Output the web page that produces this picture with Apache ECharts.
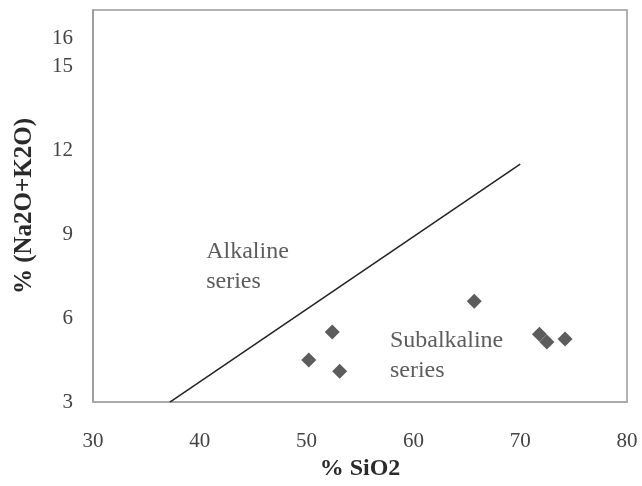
<!DOCTYPE html>
<html>
<head>
<meta charset="utf-8">
<script src="https://cdn.jsdelivr.net/npm/echarts@6/dist/echarts.min.js"></script>
<style>
html,body{margin:0;padding:0;background:#fff;}
#chart{width:642px;height:486px;}
</style>
</head>
<body>
<div id="chart"></div>
<script>
// Data
var xTicks = [30, 40, 50, 60, 70, 80];
var yTicks = [3, 6, 9, 12, 15, 16];
var samplesSiO2 = [65.7, 52.4, 50.2, 53.1, 71.8, 72.5, 74.2];
var samplesAlk  = [6.6, 5.5, 4.5, 4.1, 5.42, 5.15, 5.25];
var dividerSiO2 = [37.2, 70];
var dividerAlk  = [3, 11.5];
var fieldNames = ['Alkaline\nseries', 'Subalkaline\nseries'];
var fieldSiO2 = [40.6, 57.8];
var fieldAlk  = [7.84, 4.65];

var FONT = 'Liberation Serif';
var chart = echarts.init(document.getElementById('chart'));
chart.setOption({
  backgroundColor: '#fff',
  animation: false,
  grid: {left: 93, right: 15, top: 10, bottom: 77, show: true, borderColor: '#999', borderWidth: 1.5},
  xAxis: {
    type: 'value', min: xTicks[0], max: xTicks[xTicks.length - 1], interval: 10,
    name: '% SiO2', nameLocation: 'middle', nameGap: 48,
    nameTextStyle: {fontFamily: FONT, fontSize: 24, fontWeight: 'bold', color: '#2a2a2a'},
    axisLine: {show: true, lineStyle: {color: '#aaa', width: 2}},
    axisTick: {show: false},
    splitLine: {show: false},
    axisLabel: {fontFamily: FONT, fontSize: 21, color: '#444', margin: 29}
  },
  yAxis: {
    type: 'value', min: 3, max: 17,
    name: '% (Na2O+K2O)', nameLocation: 'middle', nameGap: 56,
    nameTextStyle: {fontFamily: FONT, fontSize: 25, fontWeight: 'bold', color: '#2a2a2a'},
    axisLine: {show: true, lineStyle: {color: '#999', width: 1.5}},
    axisTick: {show: false},
    splitLine: {show: false},
    axisLabel: {fontFamily: FONT, fontSize: 21, color: '#444', margin: 20, customValues: yTicks}
  },
  series: [
    {
      type: 'line', symbol: 'none', silent: true,
      data: dividerSiO2.map(function (x, i) { return [x, dividerAlk[i]]; }),
      lineStyle: {color: '#222', width: 1.5}
    },
    {
      type: 'scatter', symbol: 'diamond', symbolSize: 15,
      data: samplesSiO2.map(function (x, i) { return [x, samplesAlk[i]]; }),
      itemStyle: {color: '#333'}
    },
    {
      type: 'scatter', symbolSize: 0, silent: true,
      data: fieldSiO2.map(function (x, i) { return {value: [x, fieldAlk[i]], name: fieldNames[i]}; }),
      label: {show: true, position: 'right', distance: 0, formatter: '{b}', fontFamily: FONT, fontSize: 24, lineHeight: 30, color: '#333', align: 'left'}
    }
  ]
});
</script>
</body>
</html>
